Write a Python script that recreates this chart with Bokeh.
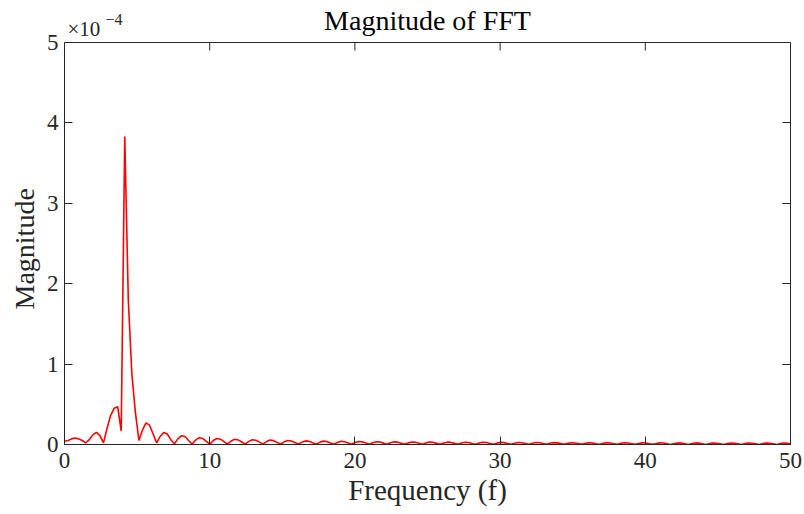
from bokeh.plotting import figure
from bokeh.models import (Range1d, FixedTicker, LinearAxis, CustomJSTickFormatter,
                          Label, ColumnDataSource, Span, Title)
from bokeh.embed import file_html
from bokeh.resources import INLINE

# ---- data ----
freq_step = 0.2441  # FFT bin spacing (Hz)
# magnitude in units of 1e-4, one value per FFT bin starting at 0 Hz
magnitude_e4 = [
    0.04, 0.05, 0.07, 0.08, 0.07, 0.05, 0.02, 0.06, 0.12, 0.15,
    0.11, 0.02, 0.20, 0.36, 0.45, 0.47, 0.17, 3.83, 1.80, 0.88,
    0.40,
    0.05, 0.18, 0.27, 0.24, 0.13,
    0.02, 0.10, 0.15, 0.13, 0.06,
    0.01, 0.07, 0.11, 0.10, 0.05,
    0.005, 0.055, 0.085, 0.075, 0.04,
    0.005, 0.049, 0.075, 0.066, 0.036,
    0.004, 0.042, 0.065, 0.057, 0.031,
    0.004, 0.039, 0.060, 0.053, 0.029,
    0.004, 0.036, 0.055, 0.048, 0.026,
    0.003, 0.033, 0.050, 0.044, 0.024,
    0.003, 0.029, 0.045, 0.040, 0.022,
    0.003, 0.027, 0.042, 0.037, 0.020,
    0.003, 0.026, 0.040, 0.035, 0.019,
    0.003, 0.024, 0.037, 0.033, 0.018,
    0.003, 0.023, 0.035, 0.031, 0.017,
    0.002, 0.021, 0.033, 0.029, 0.016,
    0.002, 0.020, 0.031, 0.027, 0.015,
    0.002, 0.020, 0.030, 0.026, 0.014,
    0.002, 0.019, 0.029, 0.026, 0.014,
    0.002, 0.018, 0.028, 0.025, 0.013,
    0.002, 0.018, 0.027, 0.024, 0.013,
    0.002, 0.017, 0.026, 0.023, 0.012,
    0.002, 0.016, 0.025, 0.022, 0.012,
    0.002, 0.016, 0.024, 0.021, 0.012,
    0.002, 0.015, 0.023, 0.020, 0.011,
    0.002, 0.014, 0.022, 0.019, 0.011,
    0.002, 0.014, 0.022, 0.019, 0.010,
    0.002, 0.014, 0.021, 0.018, 0.010,
    0.002, 0.014, 0.021, 0.018, 0.010,
    0.002, 0.013, 0.020, 0.018, 0.010,
    0.002, 0.013, 0.020, 0.018, 0.010,
    0.001, 0.012, 0.019, 0.017, 0.009,
    0.001, 0.012, 0.019, 0.017, 0.009,
    0.001, 0.012, 0.018, 0.016, 0.009,
    0.001, 0.012, 0.018, 0.016, 0.009,
    0.001, 0.011, 0.017, 0.015, 0.008,
    0.001, 0.011, 0.017, 0.015, 0.008,
    0.001, 0.011, 0.017, 0.015, 0.008,
]
frequency = [k * freq_step for k in range(len(magnitude_e4))]
magnitude = [m * 1e-4 for m in magnitude_e4]

x_ticks = [0, 10, 20, 30, 40, 50]
y_ticks = [0, 1e-4, 2e-4, 3e-4, 4e-4, 5e-4]
title_text = "Magnitude of FFT"
x_label = "Frequency (f)"
y_label = "Magnitude"

FONT = "Liberation Serif"
DARK = "#262626"

# layout: the plotting box spans 402 px of a 444 px tall frame; the space above the
# box (inside the frame) holds the title and the exponent label
FRAME_H, BOX_H = 444, 402
x_lo, x_hi = x_ticks[0], x_ticks[-1]
y_lo, y_hi = y_ticks[0], y_ticks[-1]
y_end = y_lo + (y_hi - y_lo) * FRAME_H / BOX_H

p = figure(width=804, height=514, output_backend="svg", toolbar_location=None,
           x_range=Range1d(x_lo, x_hi), y_range=Range1d(y_lo, y_end),
           min_border_left=64, min_border_right=14, min_border_top=0,
           min_border_bottom=70)
p.background_fill_color = "white"
p.border_fill_color = "white"
p.outline_line_color = None
p.xgrid.visible = False
p.ygrid.visible = False

src = ColumnDataSource(data=dict(f=frequency, m=magnitude))
p.line("f", "m", source=src, line_color="#ff0000", line_width=1.6)

fmt = CustomJSTickFormatter(code="return (tick*1e4).toFixed(0);")
blank = CustomJSTickFormatter(code="return '';")

def style_axis(ax):
    ax.axis_line_color = DARK
    ax.axis_line_width = 1
    ax.major_tick_line_color = DARK
    ax.major_tick_in = 8
    ax.major_tick_out = 0
    ax.minor_tick_line_color = None
    ax.major_label_text_font = FONT
    ax.major_label_text_font_size = "23px"
    ax.major_label_text_color = DARK
    ax.axis_label_text_font = FONT
    ax.axis_label_text_font_size = "29px"
    ax.axis_label_text_font_style = "normal"
    ax.axis_label_text_color = DARK

xa = p.xaxis[0]
xa.ticker = FixedTicker(ticks=x_ticks)
xa.axis_label = x_label
xa.major_label_standoff = 8
xa.axis_label_standoff = 3
style_axis(xa)

ya = p.yaxis[0]
ya.ticker = FixedTicker(ticks=y_ticks)
ya.formatter = fmt
ya.bounds = (y_lo, y_hi)
ya.major_label_standoff = 6
style_axis(ya)

# y-axis label as a side title, centred on the box (not on the taller frame)
p.add_layout(Title(text=y_label, align="left", offset=135, standoff=8,
                   text_font=FONT, text_font_size="28px", text_font_style="normal",
                   text_color=DARK), "left")

right = LinearAxis(ticker=FixedTicker(ticks=y_ticks), formatter=blank, bounds=(y_lo, y_hi))
style_axis(right)
right.major_label_standoff = 0
p.add_layout(right, "right")

# top edge of the box with inward ticks
p.add_layout(Span(location=y_hi, dimension="width", line_color=DARK, line_width=1))
p.ray(x=x_ticks, y=[y_hi] * len(x_ticks), length=8, length_units="screen",
      angle=-90, angle_units="deg", line_color=DARK, line_width=1)

# title, centred over the box
p.add_layout(Label(x=(x_lo + x_hi) / 2, y=y_hi, y_offset=22, text=title_text,
                   text_font=FONT, text_font_size="28px", text_color="black",
                   text_align="center", text_baseline="alphabetic"))
# exponent multiplier  x10^-4
p.add_layout(Label(x=x_lo, y=y_hi, x_offset=3, y_offset=14, text="\u00d710",
                   text_font=FONT, text_font_size="21px", text_color=DARK,
                   text_baseline="alphabetic"))
p.add_layout(Label(x=x_lo, y=y_hi, x_offset=41, y_offset=23, text="\u22124",
                   text_font=FONT, text_font_size="16px", text_color=DARK,
                   text_baseline="alphabetic"))

open("out.html", "w").write(file_html(p, INLINE))
